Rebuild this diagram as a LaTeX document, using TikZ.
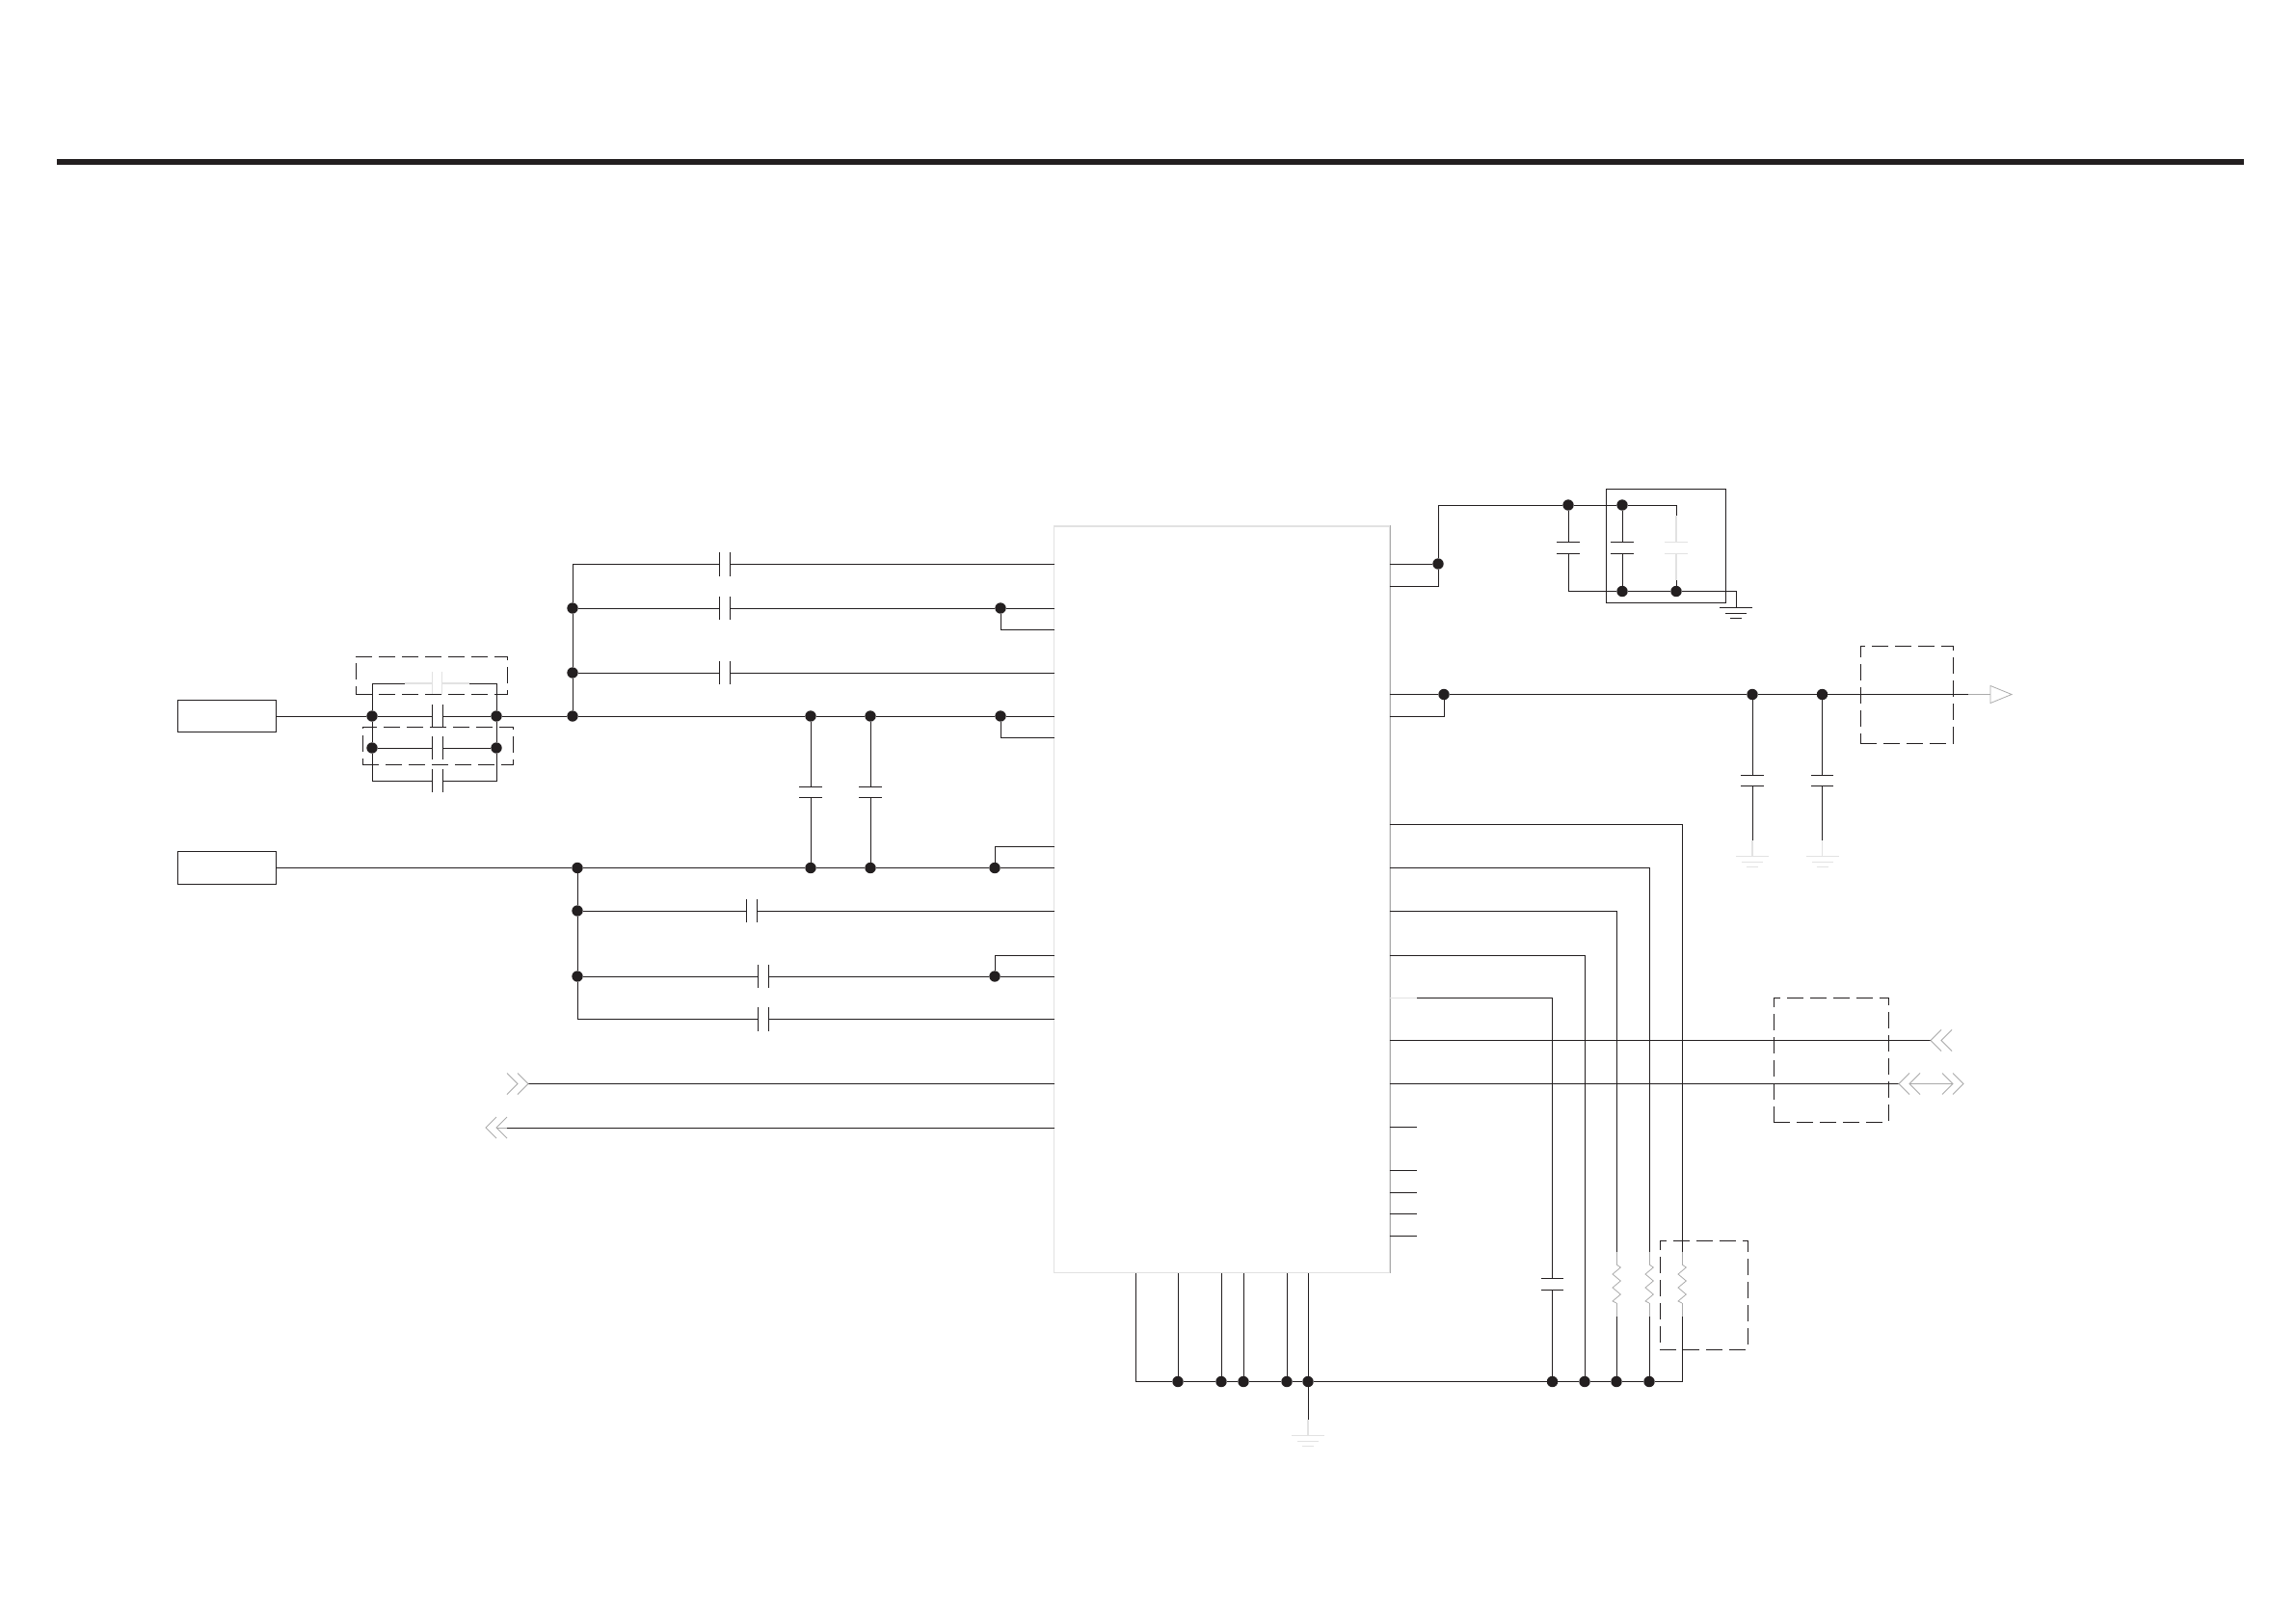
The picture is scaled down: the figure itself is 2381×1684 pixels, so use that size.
\documentclass[tikz,border=0pt]{standalone}
\definecolor{ink}{HTML}{231F20}
\definecolor{midgrey}{HTML}{ABABAB}
\definecolor{faint}{HTML}{E2E2E2}
\tikzset{
	wire/.style={draw=ink,line width=1pt},
	greywire/.style={draw=midgrey,line width=1pt},
	faintwire/.style={draw=faint,line width=1.2pt},
	dot/.style={circle,fill=ink,inner sep=0pt,minimum size=11.4pt},
	srcbox/.style={draw=ink,line width=1pt,inner sep=0pt,minimum width=102pt,minimum height=33.5pt},
	dashbox/.style={draw=ink,line width=1pt,inner sep=0pt,dash pattern=on 17pt off 7pt},
	hcap/.style={inner sep=0pt,minimum width=10.5pt,minimum height=24pt,append after command={
		(\tikzlastnode.north west) edge[draw=#1,line width=1pt] (\tikzlastnode.south west)
		(\tikzlastnode.north east) edge[draw=#1,line width=1pt] (\tikzlastnode.south east)}},
	hcap/.default=ink,
	vcap/.style={inner sep=0pt,minimum width=23pt,minimum height=11pt,append after command={
		(\tikzlastnode.north west) edge[draw=#1,line width=1pt] (\tikzlastnode.north east)
		(\tikzlastnode.south west) edge[draw=#1,line width=1pt] (\tikzlastnode.south east)}},
	vcap/.default=ink,
	gnd/.pic={
		\draw[pic actions,line width=1pt] (-17,0) -- (17,0) (-11,6) -- (11,6) (-6,11) -- (6,11);
	},
	chevleft/.pic={
		\draw[greywire,line width=.8pt] (11,-11) -- (0,0) -- (11,11) (22,-11) -- (11,0) -- (22,11);
	},
	chevright/.pic={
		\draw[greywire,line width=.8pt] (-11,-11) -- (0,0) -- (-11,11) (-22,-11) -- (-11,0) -- (-22,11);
	},
	outtri/.pic={
		\draw[greywire,line width=.8pt] (0,-9) -- (22,0) -- (0,9) -- cycle;
	},
	zigzag/.pic={
		\draw[greywire,line width=.8pt] (0,-20) -- (4.3,-17) -- (-4,-10) -- (4.3,-3) -- (-4,4) -- (4.3,11) -- (-4,18) -- (0,20);
	},
}

\begin{document}
\begin{tikzpicture}[x=1pt,y=-1pt]
	\useasboundingbox (0,0) rectangle (2381,1684);

	\coordinate (ruleL) at (59,167.5);
	\coordinate (ruleR) at (2327.5,167.5);
	\draw[draw=ink,line width=6pt] (ruleL) -- (ruleR);

	\node[draw=faint,line width=1.6pt,inner sep=0pt,minimum width=348pt,minimum height=774.6pt] (ic) at (1267.5,933) {};
	\draw[greywire] (ic.north east) -- (ic.south east);

	\node[srcbox] (srcA) at (235,743) {};
	\node[srcbox] (srcB) at (235,900.5) {};

	\coordinate (pinA) at (1094,585.5);
	\coordinate (pinB) at (1094,631);
	\coordinate (pinC) at (1094,653);
	\coordinate (pinD) at (1094,698);
	\coordinate (pinE) at (1094,743);
	\coordinate (pinF) at (1094,765.5);
	\coordinate (pinG) at (1094,878);
	\coordinate (pinH) at (1094,900.5);
	\coordinate (pinI) at (1094,945);
	\coordinate (pinJ) at (1094,991);
	\coordinate (pinK) at (1094,1013);
	\coordinate (pinL) at (1094,1057.5);
	\coordinate (pinM) at (1094,1124.5);
	\coordinate (pinN) at (1094,1170);

	\node[dot] (inA) at (386,743) {};
	\node[dot] (outA) at (515,743) {};
	\node[dot] (inB) at (386,776) {};
	\node[dot] (outB) at (515,776) {};
	\node[hcap] (capA) at (454,743) {};
	\node[hcap] (capB) at (454,776) {};
	\node[hcap] (capC) at (454,810) {};
	\node[hcap=faint] (capD) at (453.5,709) {};
	\coordinate (loopTL) at (386,709);
	\coordinate (loopTR) at (515,709);
	\coordinate (loopBL) at (386,810);
	\coordinate (loopBR) at (515,810);
	\coordinate (fadeL) at (420,709);
	\coordinate (fadeR) at (487,709);

	\node[dot] (busA) at (594,631) {};
	\node[dot] (busB) at (594,698) {};
	\node[dot] (busC) at (594,743) {};
	\coordinate (busTop) at (594,585.5);
	\node[hcap] (capE) at (752,585.5) {};
	\node[hcap] (capF) at (752,631) {};
	\node[hcap] (capG) at (752,698) {};
	\node[dot] (tieA) at (1038,631) {};
	\node[dot] (tieB) at (1038,743) {};
	\node[dot] (midA) at (841,743) {};
	\node[dot] (midB) at (903,743) {};
	\node[vcap] (capH) at (841,822) {};
	\node[vcap] (capI) at (903,822) {};

	\node[dot] (lowA) at (599,900.5) {};
	\node[dot] (lowB) at (599,945) {};
	\node[dot] (lowC) at (599,1013) {};
	\coordinate (lowEnd) at (599,1057.5);
	\node[dot] (midC) at (841,900.5) {};
	\node[dot] (midD) at (903,900.5) {};
	\node[dot] (tieC) at (1032,900.5) {};
	\node[dot] (tieD) at (1032,1013) {};
	\node[hcap] (capJ) at (780,945) {};
	\node[hcap] (capK) at (792,1013) {};
	\node[hcap] (capL) at (792,1057.5) {};

	\draw[wire] (srcA) -- (inA) -- (capA) -- (outA) -- (busC) -- (midA) -- (midB) -- (tieB) -- (pinE);
	\draw[wire] (tieB) |- (pinF);
	\draw[wire] (loopTL) -- (inA) -- (inB) -- (loopBL) -- (capC) -- (loopBR) -- (outB) -- (outA) -- (loopTR) -- (fadeR);
	\draw[wire] (loopTL) -- (fadeL);
	\draw[faintwire] (fadeL) -- (capD) -- (fadeR);
	\draw[wire] (inB) -- (capB) -- (outB);

	\draw[wire] (pinA) -- (capE) -- (busTop) -- (busA) -- (busB) -- (busC);
	\draw[wire] (busA) -- (capF) -- (tieA) -- (pinB);
	\draw[wire] (tieA) |- (pinC);
	\draw[wire] (busB) -- (capG) -- (pinD);
	\draw[wire] (midA) -- (capH) -- (midC);
	\draw[wire] (midB) -- (capI) -- (midD);

	\draw[wire] (srcB) -- (lowA) -- (midC) -- (midD) -- (tieC) -- (pinH);
	\draw[wire] (tieC) |- (pinG);
	\draw[wire] (lowA) -- (lowB) -- (lowC) -- (lowEnd) -- (capL) -- (pinL);
	\draw[wire] (lowB) -- (capJ) -- (pinI);
	\draw[wire] (lowC) -- (capK) -- (tieD) -- (pinK);
	\draw[wire] (tieD) |- (pinJ);

	\coordinate (sigInEnd) at (548,1124.5);
	\coordinate (sigOutEnd) at (526,1170);
	\coordinate (sigOutTip) at (515,1170);
	\coordinate (sigOutTipB) at (504,1170);
	\draw[wire] (pinM) -- (sigInEnd);
	\draw[wire] (pinN) -- (sigOutEnd);
	\draw[greywire,line width=.7pt] (sigOutEnd) -- (sigOutTip);
	\pic at (sigInEnd) {chevright};
	\pic at (sigOutTipB) {chevleft};

	\coordinate (pwrA) at (1441.5,585);
	\coordinate (pwrB) at (1441.5,608);
	\node[dot] (pwrTie) at (1492,585) {};
	\coordinate (pwrTop) at (1492,524);
	\node[dot] (railA) at (1627,524) {};
	\node[dot] (railB) at (1683,524) {};
	\coordinate (railEnd) at (1739,524);
	\coordinate (railFadeT) at (1739,535);
	\coordinate (railFadeB) at (1739,602);
	\node[vcap] (capM) at (1627,568.5) {};
	\node[vcap] (capN) at (1683,568.5) {};
	\node[vcap=faint] (capO) at (1739,568.5) {};
	\coordinate (retStart) at (1627,613.5);
	\node[dot] (retA) at (1683,613.5) {};
	\node[dot] (retB) at (1739,613.5) {};
	\coordinate (retEnd) at (1801,613.5);
	\coordinate (gndA) at (1801,630);
	\node[draw=ink,line width=1pt,inner sep=0pt,minimum width=124pt,minimum height=118pt] (capbox) at (1728,566) {};

	\draw[wire] (pwrA) -- (pwrTie) -- (pwrTop) -- (railA) -- (railB) -- (railEnd) -- (railFadeT);
	\draw[wire] (pwrB) -| (pwrTie);
	\draw[faintwire] (railFadeT) -- (capO) -- (railFadeB);
	\draw[wire] (railFadeB) -- (retB);
	\draw[wire] (railA) -- (capM) -- (retStart) -- (retA) -- (retB) -- (retEnd) -- (gndA);
	\draw[wire] (railB) -- (capN) -- (retA);
	\pic[draw=ink] at (gndA) {gnd};

	\coordinate (outC) at (1441.5,720.5);
	\coordinate (outD) at (1441.5,743);
	\node[dot] (outTie) at (1498,720.5) {};
	\node[dot] (filtA) at (1818,720.5) {};
	\node[dot] (filtB) at (1890.5,720.5) {};
	\coordinate (outEnd) at (2042,720.5);
	\coordinate (triBase) at (2065,720.5);
	\node[vcap] (capP) at (1818,810) {};
	\node[vcap] (capQ) at (1890.5,810) {};
	\coordinate (filtEndA) at (1818,872);
	\coordinate (filtEndB) at (1890.5,872);
	\coordinate (gndB) at (1818,888.5);
	\coordinate (gndC) at (1890.5,888.5);
	\node[dashbox,minimum width=96pt,minimum height=101pt] (boxOut) at (1978,720.5) {};

	\draw[wire] (outC) -- (outTie) -- (filtA) -- (filtB) -- (outEnd);
	\draw[wire] (outD) -| (outTie);
	\draw[greywire] (outEnd) -- (triBase);
	\pic at (triBase) {outtri};
	\draw[wire] (filtA) -- (capP) -- (filtEndA);
	\draw[wire] (filtB) -- (capQ) -- (filtEndB);
	\draw[faintwire] (filtEndA) -- (gndB);
	\draw[faintwire] (filtEndB) -- (gndC);
	\pic[draw=faint] at (gndB) {gnd};
	\pic[draw=faint] at (gndC) {gnd};

	\coordinate (sideA) at (1441.5,855.5);
	\coordinate (sideB) at (1441.5,900.5);
	\coordinate (sideC) at (1441.5,945);
	\coordinate (sideD) at (1441.5,991);
	\coordinate (sideE) at (1441.5,1035.5);
	\coordinate (sideEb) at (1470,1035.5);
	\coordinate (sideF) at (1441.5,1079.5);
	\coordinate (sideG) at (1441.5,1124.5);
	\coordinate (stubA) at (1441.5,1169.5);
	\coordinate (stubAe) at (1470,1169.5);
	\coordinate (stubB) at (1441.5,1214.5);
	\coordinate (stubBe) at (1470,1214.5);
	\coordinate (stubC) at (1441.5,1237.5);
	\coordinate (stubCe) at (1470,1237.5);
	\coordinate (stubD) at (1441.5,1259.5);
	\coordinate (stubDe) at (1470,1259.5);
	\coordinate (stubE) at (1441.5,1282.5);
	\coordinate (stubEe) at (1470,1282.5);
	\draw[wire] (stubA) -- (stubAe);
	\draw[wire] (stubB) -- (stubBe);
	\draw[wire] (stubC) -- (stubCe);
	\draw[wire] (stubD) -- (stubDe);
	\draw[wire] (stubE) -- (stubEe);

	\coordinate (botStart) at (1178,1321);
	\coordinate (botCorner) at (1178,1433.5);
	\node[dot] (botA) at (1222,1433.5) {};
	\node[dot] (botB) at (1267,1433.5) {};
	\node[dot] (botC) at (1290,1433.5) {};
	\node[dot] (botD) at (1335,1433.5) {};
	\node[dot] (botE) at (1357,1433.5) {};
	\node[dot] (botF) at (1610.5,1433.5) {};
	\node[dot] (botG) at (1644,1433.5) {};
	\node[dot] (botH) at (1677,1433.5) {};
	\node[dot] (botI) at (1711,1433.5) {};
	\coordinate (botEnd) at (1745,1433.5);
	\coordinate (legA) at (1222,1321);
	\coordinate (legB) at (1267,1321);
	\coordinate (legC) at (1290,1321);
	\coordinate (legD) at (1335,1321);
	\coordinate (legE) at (1357,1321);
	\coordinate (gndStem) at (1357,1473);
	\coordinate (gndD) at (1357,1489);

	\draw[wire] (botStart) -- (botCorner) -- (botA) -- (botB) -- (botC) -- (botD) -- (botE) -- (botF) -- (botG) -- (botH) -- (botI) -- (botEnd);
	\draw[wire] (legA) -- (botA);
	\draw[wire] (legB) -- (botB);
	\draw[wire] (legC) -- (botC);
	\draw[wire] (legD) -- (botD);
	\draw[wire] (legE) -- (botE) -- (gndStem);
	\draw[faintwire] (gndStem) -- (gndD);
	\pic[draw=faint] at (gndD) {gnd};

	\node[vcap] (capR) at (1610.5,1332.5) {};
	\coordinate (resTopA) at (1677,1299);
	\coordinate (resTopB) at (1711,1299);
	\coordinate (resTopC) at (1745,1299);
	\coordinate (resBotA) at (1677,1366);
	\coordinate (resBotB) at (1711,1366);
	\coordinate (resBotC) at (1745,1366);
	\coordinate (resA) at (1677,1332);
	\coordinate (resB) at (1711,1332);
	\coordinate (resC) at (1745,1332);

	\draw[faintwire] (sideE) -- (sideEb);
	\draw[wire] (sideEb) -| (capR);
	\draw[wire] (capR) -- (botF);
	\draw[wire] (sideD) -| (botG);
	\draw[wire] (sideC) -| (resTopA);
	\draw[wire] (sideB) -| (resTopB);
	\draw[wire] (sideA) -| (resTopC);
	\draw[wire] (resBotA) -- (botH);
	\draw[wire] (resBotB) -- (botI);
	\draw[wire] (resBotC) -- (botEnd);
	\draw[greywire] (resTopA) -- (resA) (resA) -- (resBotA);
	\draw[greywire] (resTopB) -- (resB) (resB) -- (resBotB);
	\draw[greywire] (resTopC) -- (resC) (resC) -- (resBotC);
	\fill[white] (1670,1312) rectangle (1752,1352);
	\pic at (resA) {zigzag};
	\pic at (resB) {zigzag};
	\pic at (resC) {zigzag};

	\coordinate (sideFend) at (2003,1079.5);
	\coordinate (sideGend) at (1970,1124.5);
	\coordinate (busL) at (1981,1124.5);
	\coordinate (busR) at (2026,1124.5);
	\coordinate (busRb) at (2037,1124.5);
	\draw[wire] (sideF) -- (sideFend);
	\draw[wire] (sideG) -- (sideGend);
	\draw[greywire] (busL) -- (busR);
	\pic at (sideFend) {chevleft};
	\pic at (sideGend) {chevleft};
	\pic at (busRb) {chevright};

	\node[dashbox,minimum width=157pt,minimum height=39pt] (boxTop) at (447.5,700.5) {};
	\node[dashbox,minimum width=156pt,minimum height=39pt] (boxMid) at (454,773.5) {};
	\node[dashbox,minimum width=119pt,minimum height=129pt] (boxBus) at (1899.5,1099.5) {};
	\node[dashbox,minimum width=91pt,minimum height=113pt] (boxRes) at (1767.5,1343.5) {};
\end{tikzpicture}
\end{document}
